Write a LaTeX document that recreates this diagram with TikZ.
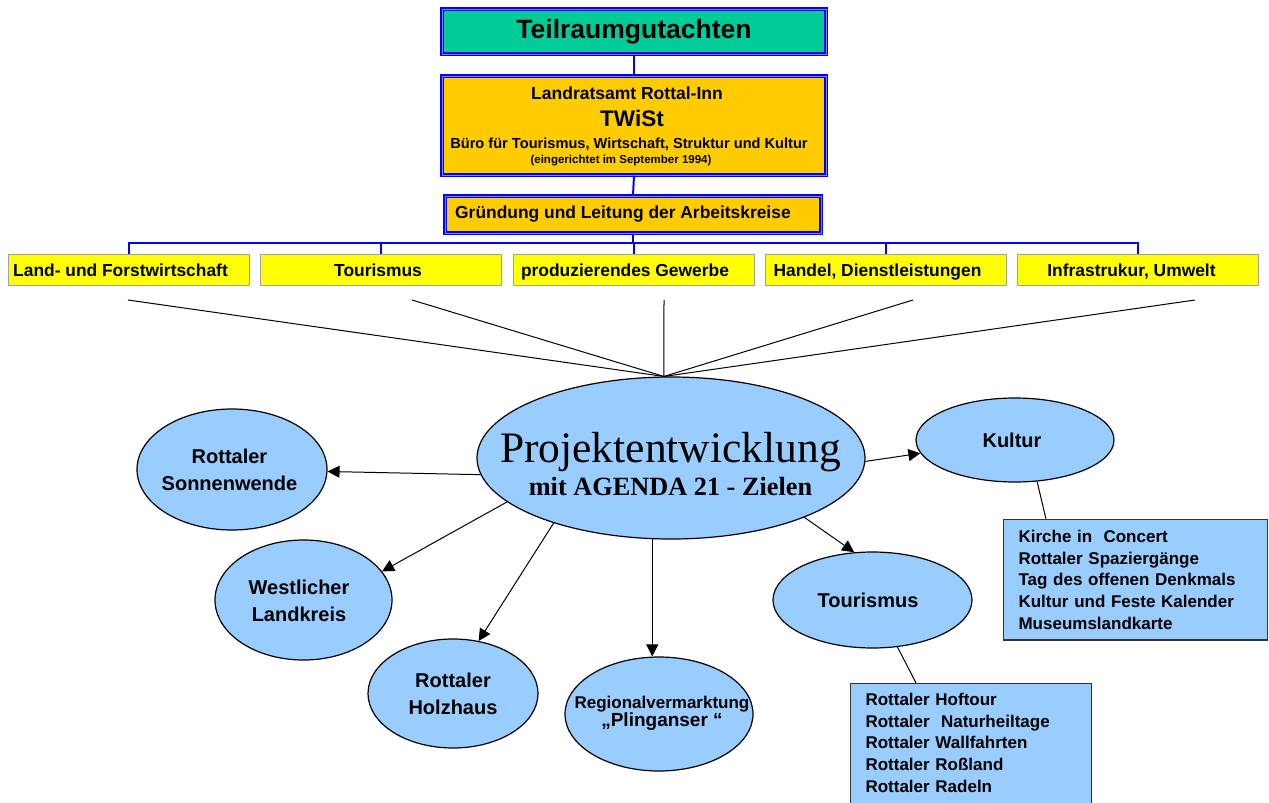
\documentclass[tikz,border=0pt]{standalone}
\usepackage{fontspec}
\setmainfont{Liberation Sans}
\newfontfamily\serifx{Liberation Serif}
\usetikzlibrary{shapes.geometric,arrows.meta,calc}
\definecolor{tealbox}{RGB}{0,204,153}
\definecolor{orangebox}{RGB}{255,204,0}
\definecolor{yellbox}{RGB}{255,255,0}
\definecolor{lblue}{RGB}{153,204,255}
\definecolor{graybord}{RGB}{160,160,160}
\definecolor{midblue}{RGB}{130,130,255}
\newcommand\fsz[2]{\fontsize{#1}{#2}\selectfont}
\begin{document}
\begin{tikzpicture}[x=1pt,y=-1pt,
  dbox/.style={draw=blue, line width=1.1pt, double=midblue, double distance=0.9pt, inner sep=0pt},
  ybox/.style={draw=graybord, line width=0.9pt, fill=yellbox, minimum width=241pt, minimum height=31pt, inner sep=0pt, text height=12.5pt, text depth=0pt, font=\fsz{17.4}{20}\bfseries},
  bline/.style={draw=blue, line width=2pt},
  ell/.style={ellipse, draw=black, line width=1.2pt, fill=lblue, inner sep=0pt},
  elab/.style={align=center, inner sep=0pt, font=\fsz{20}{27}\bfseries},
  arr/.style={-{Triangle[length=12pt,width=12pt]}, line width=1pt, black},
  ln/.style={line width=1pt, black},
  lbox/.style={draw=black!80, line width=1.1pt, fill=lblue, anchor=north west, align=left, inner xsep=15pt, font=\fsz{17}{21.7}\bfseries}
]
\useasboundingbox (0,0) rectangle (1269,803);
\clip (0,0) rectangle (1269,803);
\fill[white] (0,0) rectangle (1269,803);

% top boxes
\node[dbox, fill=tealbox, minimum width=384pt, minimum height=45pt] (teil) at (634,31.5) {\fsz{26.5}{30}\bfseries Teilraumgutachten};
\node[dbox, fill=orangebox, minimum width=384pt, minimum height=99pt] (twist) at (634,125.5) {};
\node[anchor=base, inner sep=0pt] (tw1) at (627,99) {\fsz{17.5}{18}\bfseries Landratsamt Rottal-Inn};
\node[anchor=base, inner sep=0pt] (tw2) at (632,126) {\fsz{22.5}{24}\bfseries TWiSt};
\node[anchor=base, inner sep=0pt] (tw3) at (629,148) {\fsz{14.6}{16}\bfseries Büro für Tourismus, Wirtschaft, Struktur und Kultur};
\node[anchor=base, inner sep=0pt] (tw4) at (621,163) {\fsz{11.5}{13}\bfseries (eingerichtet im September 1994)};
\node[dbox, fill=orangebox, minimum width=376pt, minimum height=37pt] (grund) at (633,214.5) {};
\node[anchor=base west, inner sep=0pt] (grundT) at (455,218) {\fsz{17.4}{20}\bfseries Gründung und Leitung der Arbeitskreise};

% yellow row
\node[ybox] (y1) at (128.5,270) {Land- und Forstwirtschaft\hspace*{16pt}};
\node[ybox] (y2) at (381,270) {Tourismus\hspace*{6pt}};
\node[ybox] (y3) at (633.5,270) {produzierendes Gewerbe\hspace*{17pt}};
\node[ybox] (y4) at (885.5,270) {Handel, Dienstleistungen\hspace*{16pt}};
\node[ybox] (y5) at (1137.5,270) {Infrastrukur, Umwelt\hspace*{12pt}};

% blue connectors
\coordinate (bus) at (633,243);
\draw[bline] (teil.south) -- (twist.north);
\draw[bline] (twist.south) -- (grund.north);
\draw[bline] (grund.south) -- (bus);
\draw[bline] (y1.north) -- (y1.north |- bus) -- (y5.north |- bus) -- (y5.north);
\foreach \i in {2,3,4} {\draw[bline] (y\i.north) -- (y\i.north |- bus);}

% ellipses
\node[ell, minimum width=388pt, minimum height=162pt] (main) at (671,458) {};
\node[ell, minimum width=190pt, minimum height=121pt] (sonn) at (232,469.5) {};
\node[ell, minimum width=177pt, minimum height=120pt] (west) at (303.5,600) {};
\node[ell, minimum width=170pt, minimum height=109pt] (holz) at (453,693.5) {};
\node[ell, minimum width=188pt, minimum height=114pt] (reg) at (659,714) {};
\node[ell, minimum width=199pt, minimum height=96pt] (tour) at (872.5,600) {};
\node[ell, minimum width=198pt, minimum height=84pt] (kult) at (1015,440) {};

% fan lines
\coordinate (f1) at (128,300);
\coordinate (f2) at (412,300);
\coordinate (f3) at (664,300);
\coordinate (f4) at (913,300);
\coordinate (f5) at (1195,300);
\foreach \i in {1,...,5} {\draw[ln] (f\i) -- (main.95);}

% labels
\node[align=center, inner sep=0pt, font=\serifx\fsz{43.5}{33}] (mainT) at (670.5,463.7) {Projektentwicklung\\{\fsz{26.3}{33}\bfseries mit AGENDA 21 - Zielen}};
\node[elab] (sonnT) at (229.5,469.5) {Rottaler\\Sonnenwende};
\node[elab] (westT) at (299,601) {Westlicher\\Landkreis};
\node[elab] (holzT) at (453,693.5) {Rottaler\\Holzhaus};
\node[align=center, inner sep=0pt, font=\fsz{17}{18}\bfseries] (regT) at (662,713.8) {Regionalvermarktung\\{\fsz{19}{18}„Plinganser “}};
\node[elab] (tourT) at (868,600) {Tourismus};
\node[elab] (kultT) at (1012,440) {Kultur};

% arrows
\draw[arr] (main.185) -- (sonn);
\draw[arr] (main.195) -- (west.20);
\draw[arr] (main.209) -- (holz.64);
\draw[arr] (main.257) -- (main.257 |- reg.north);
\draw[arr] (main.336) -- (tour.111);
\draw[arr] (main.359) -- (kult.188);

% list boxes
\node[lbox, text width=234pt, inner ysep=10.6pt] (kbox) at (1003,519) {Kirche in \ Concert\\Rottaler Spaziergänge\\Tag des offenen Denkmals\\Kultur und Feste Kalender\\Museumslandkarte};
\node[lbox, text width=211pt, inner ysep=9.6pt] (tbox) at (850,683) {Rottaler Hoftour\\Rottaler \ Naturheiltage\\Rottaler Wallfahrten\\Rottaler Roßland\\Rottaler Radeln\rule[-30pt]{0pt}{30pt}};
\draw[ln] (kult.298) -- ($(kbox.north west)+(43,0)$);
\draw[ln] (tour.298) -- ($(tbox.north west)+(66,0)$);
\end{tikzpicture}
\end{document}
